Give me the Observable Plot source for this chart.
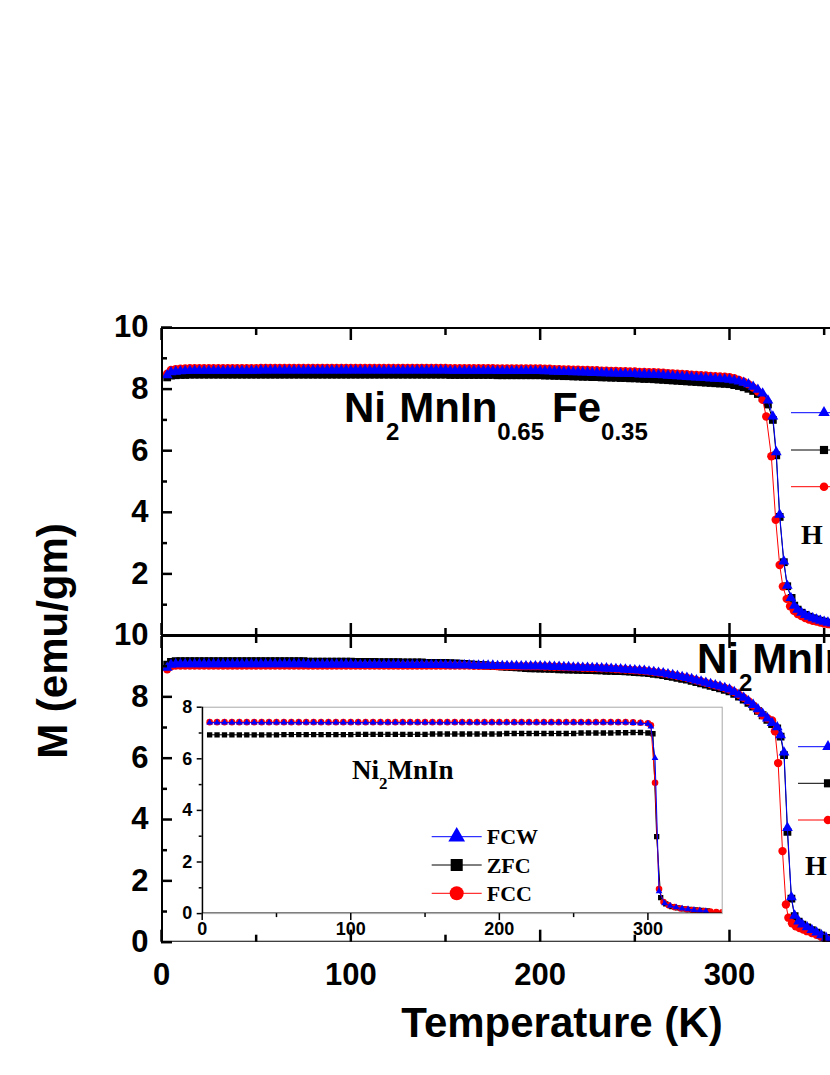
<!DOCTYPE html>
<html><head><meta charset="utf-8">
<script src="https://cdn.jsdelivr.net/npm/d3@7"></script>
<script src="https://cdn.jsdelivr.net/npm/@observablehq/plot@0.6"></script>
<style>
html,body{margin:0;padding:0;background:#fff;overflow:hidden;}
#chart{position:relative;width:830px;height:1075px;overflow:hidden;background:#fff;}
#chart svg{position:absolute;left:0;top:0;}
</style></head><body><div id="chart"></div>
<script>
// ---------------- DATA ----------------
const seriesNames = ["FCW", "ZFC", "FCC"];
const xMajorTicks = [0, 100, 200, 300];
const xMinorTicks = [50, 150, 250, 350];
const yTopLabels = [2, 4, 6, 8, 10];
const yBottomLabels = [0, 2, 4, 6, 8, 10];
const yMinorTicks = [1, 3, 5, 7, 9];
const insetYTicks = [0, 2, 4, 6, 8];
const insetYMinor = [1, 3, 5, 7];
const insetXTicks = [0, 100, 200, 300];
const insetXMinor = [50, 150, 250];

// main panels: common low-temperature grid (K)
const mainT = [
  3,5,7.5,10,12.5,15,17.5,20,22.5,25,27.5,30,32.5,35,37.5,40,42.5,45,47.5,50,
  52.5,55,57.5,60,62.5,65,67.5,70,72.5,75,77.5,80,82.5,85,87.5,90,92.5,95,97.5,100,
  102.5,105,107.5,110,112.5,115,117.5,120,122.5,125,127.5,130,132.5,135,137.5,140,142.5,145,147.5,150,
  152.5,155,157.5,160,162.5,165,167.5,170,172.5,175,177.5,180,182.5,185,187.5,190,192.5,195,197.5,200,
  202.5,205,207.5,210,212.5,215,217.5,220,222.5,225,227.5,230,232.5,235,237.5,240,242.5,245,247.5,250,
  252.5,255,257.5,260,262.5,265,267.5,270,272.5,275,277.5,280,282.5,285,287.5,290,292.5,295,297.5,300,
  302.5,305,307.5,310,312.5,315
];

// Top panel: Ni2MnIn0.65Fe0.35
const topFCW = [
  8.45,8.55,8.57,8.58,8.59,8.6,8.6,8.6,8.6,8.6,8.6,8.6,8.6,8.6,8.6,8.6,8.6,8.6,8.6,8.6,
  8.61,8.61,8.61,8.61,8.61,8.61,8.61,8.61,8.61,8.61,8.61,8.61,8.61,8.61,8.61,8.61,8.61,8.61,8.61,8.61,
  8.61,8.61,8.61,8.61,8.61,8.61,8.61,8.61,8.61,8.61,8.61,8.61,8.61,8.61,8.61,8.61,8.61,8.61,8.61,8.61,
  8.6,8.6,8.6,8.6,8.6,8.6,8.6,8.6,8.6,8.6,8.59,8.59,8.59,8.59,8.59,8.59,8.59,8.59,8.59,8.59,
  8.58,8.58,8.57,8.57,8.56,8.56,8.55,8.55,8.54,8.54,8.53,8.53,8.52,8.52,8.51,8.51,8.5,8.5,8.49,8.49,
  8.48,8.48,8.47,8.47,8.46,8.45,8.44,8.43,8.42,8.41,8.4,8.39,8.38,8.37,8.36,8.35,8.34,8.33,8.32,8.31,
  8.28,8.25,8.21,8.16,8.08,7.98
];
const topFCWTransT = [317.5,320.3,322.9,324.7,326.5,328.7,330.5,332.4,334.2,336,338,340,342,344,346,348,350,352,354];
const topFCWTransM = [7.86,7.63,7.11,5.95,3.92,2.41,1.62,1.22,0.97,0.84,0.74,0.67,0.61,0.56,0.52,0.48,0.45,0.42,0.39];

const topZFC = [
  8.38,8.44,8.45,8.46,8.46,8.47,8.47,8.47,8.47,8.47,8.47,8.47,8.47,8.47,8.47,8.47,8.47,8.47,8.47,8.47,
  8.47,8.47,8.47,8.47,8.47,8.47,8.47,8.47,8.47,8.47,8.47,8.47,8.47,8.47,8.47,8.47,8.47,8.47,8.47,8.47,
  8.47,8.47,8.47,8.47,8.47,8.47,8.47,8.47,8.47,8.47,8.47,8.47,8.47,8.47,8.47,8.47,8.47,8.47,8.47,8.47,
  8.46,8.46,8.46,8.46,8.46,8.46,8.46,8.46,8.46,8.46,8.45,8.45,8.45,8.45,8.45,8.45,8.45,8.45,8.45,8.45,
  8.44,8.44,8.43,8.43,8.42,8.42,8.41,8.41,8.4,8.4,8.39,8.39,8.38,8.38,8.37,8.37,8.36,8.36,8.35,8.35,
  8.34,8.33,8.33,8.32,8.31,8.3,8.29,8.28,8.27,8.26,8.25,8.24,8.23,8.22,8.21,8.2,8.19,8.18,8.17,8.16,
  8.13,8.1,8.06,8.01,7.94,7.84
];
const topZFCTransT = [317.5,320.3,322.9,324.7,326.5,328.7,330.5,332.8,334.2,336,338,340,342,344,346,348,350,352,354];
const topZFCTransM = [7.72,7.5,7.0,5.85,3.85,2.38,1.6,1.22,0.97,0.84,0.74,0.67,0.61,0.56,0.52,0.48,0.45,0.42,0.39];

const topFCC = [
  8.5,8.62,8.65,8.66,8.67,8.68,8.68,8.68,8.68,8.68,8.68,8.68,8.68,8.68,8.68,8.68,8.68,8.68,8.68,8.68,
  8.69,8.69,8.69,8.69,8.69,8.69,8.69,8.69,8.69,8.69,8.69,8.69,8.69,8.69,8.69,8.69,8.69,8.69,8.69,8.69,
  8.69,8.69,8.69,8.69,8.69,8.69,8.69,8.69,8.69,8.69,8.69,8.69,8.69,8.69,8.69,8.69,8.69,8.69,8.69,8.69,
  8.68,8.68,8.68,8.68,8.68,8.68,8.68,8.68,8.68,8.68,8.67,8.67,8.67,8.67,8.67,8.67,8.67,8.67,8.67,8.67,
  8.66,8.66,8.65,8.65,8.64,8.64,8.63,8.63,8.62,8.62,8.61,8.61,8.6,8.6,8.59,8.59,8.58,8.58,8.57,8.57,
  8.56,8.56,8.55,8.55,8.54,8.53,8.52,8.51,8.5,8.49,8.48,8.47,8.46,8.45,8.44,8.43,8.42,8.41,8.4,8.39,
  8.35,8.3,8.24,8.16,8.05,7.92
];
const topFCCTransT = [317.5,319.4,322.1,324.4,326.5,328.2,330.2,332,334,336,338,340,342,344,346,348,350,352,354];
const topFCCTransM = [7.65,7.11,5.82,3.76,2.29,1.59,1.19,0.95,0.8,0.7,0.63,0.57,0.52,0.48,0.45,0.42,0.39,0.37,0.35];

// Bottom panel: Ni2MnIn...
const botFCW = [
  8.95,9.05,9.07,9.07,9.07,9.07,9.07,9.07,9.07,9.07,9.07,9.07,9.07,9.07,9.07,9.07,9.07,9.07,9.07,9.07,
  9.07,9.07,9.07,9.07,9.07,9.07,9.07,9.07,9.07,9.07,9.06,9.06,9.06,9.06,9.06,9.06,9.06,9.06,9.06,9.06,
  9.05,9.05,9.05,9.05,9.05,9.05,9.05,9.05,9.05,9.05,9.04,9.04,9.04,9.04,9.04,9.04,9.04,9.04,9.04,9.04,
  9.03,9.03,9.03,9.03,9.03,9.02,9.02,9.02,9.02,9.02,9.01,9.01,9.01,9.01,9.01,9.0,9.0,9.0,9.0,9.0,
  8.99,8.99,8.98,8.98,8.97,8.97,8.96,8.96,8.95,8.95,8.94,8.94,8.93,8.93,8.92,8.91,8.9,8.89,8.88,8.87,
  8.86,8.85,8.83,8.81,8.79,8.77,8.74,8.71,8.68,8.65,8.62,8.58,8.54,8.5,8.46,8.42,8.38,8.34,8.29,8.24,
  8.16,8.07,7.97,7.86,7.74,7.6
];
const botFCWTransT = [317.5,320,322.5,325.2,327,328.8,330.6,332.7,334.4,336.5,338.5,341,343.5,346,348.5,351,353.5];
const botFCWTransM = [7.45,7.3,7.15,7.01,6.75,6.19,3.73,1.47,0.87,0.68,0.58,0.49,0.4,0.32,0.23,0.15,0.08];

const botZFC = [
  9.05,9.14,9.16,9.16,9.16,9.16,9.16,9.16,9.16,9.16,9.16,9.16,9.16,9.16,9.16,9.16,9.16,9.16,9.16,9.16,
  9.16,9.16,9.16,9.16,9.16,9.16,9.16,9.16,9.16,9.16,9.15,9.15,9.15,9.15,9.15,9.15,9.15,9.15,9.15,9.15,
  9.14,9.14,9.14,9.14,9.14,9.13,9.13,9.13,9.13,9.13,9.12,9.12,9.12,9.12,9.12,9.11,9.11,9.11,9.11,9.11,
  9.1,9.09,9.08,9.07,9.06,9.05,9.04,9.03,9.02,9.01,9.0,8.99,8.98,8.97,8.96,8.95,8.94,8.93,8.93,8.92,
  8.92,8.91,8.91,8.9,8.9,8.89,8.89,8.88,8.88,8.87,8.87,8.86,8.86,8.85,8.85,8.84,8.84,8.83,8.82,8.81,
  8.8,8.79,8.77,8.75,8.73,8.71,8.68,8.65,8.62,8.59,8.56,8.52,8.48,8.44,8.4,8.36,8.32,8.28,8.23,8.18,
  8.1,8.01,7.91,7.8,7.68,7.54
];
const botZFCTransT = [317.5,320,322.5,325.2,327,328.8,330.6,332.7,334.4,336.5,338.5,341,343.5,346,348.5,351,353.5];
const botZFCTransM = [7.4,7.25,7.11,6.97,6.7,6.1,3.6,1.42,0.85,0.67,0.57,0.48,0.39,0.31,0.22,0.14,0.07];

const botFCC = [
  8.9,9.0,9.02,9.02,9.02,9.02,9.02,9.02,9.02,9.02,9.02,9.02,9.02,9.02,9.02,9.02,9.02,9.02,9.02,9.02,
  9.02,9.02,9.02,9.02,9.02,9.02,9.02,9.02,9.02,9.02,9.02,9.02,9.02,9.02,9.02,9.02,9.02,9.02,9.02,9.02,
  9.02,9.02,9.02,9.02,9.02,9.02,9.02,9.02,9.02,9.02,9.02,9.02,9.02,9.02,9.02,9.02,9.02,9.02,9.02,9.02,
  9.02,9.02,9.02,9.02,9.02,9.01,9.01,9.01,9.01,9.01,9.0,9.0,9.0,9.0,9.0,9.0,9.0,9.0,9.0,9.0,
  8.99,8.99,8.98,8.98,8.97,8.97,8.96,8.96,8.95,8.95,8.94,8.94,8.93,8.93,8.92,8.91,8.9,8.89,8.88,8.87,
  8.86,8.85,8.83,8.81,8.79,8.77,8.74,8.71,8.68,8.65,8.62,8.58,8.54,8.5,8.46,8.42,8.38,8.34,8.29,8.24,
  8.16,8.07,7.97,7.86,7.72,7.56
];
const botFCCTransT = [317.5,320,322.5,324,325.7,328,329.8,331.1,333,335,337,339,341,343.5,346,348.5,351,353.5];
const botFCCTransM = [7.4,7.3,7.23,6.88,5.84,2.97,1.23,0.8,0.62,0.52,0.46,0.41,0.36,0.3,0.24,0.18,0.12,0.07];

// Inset: Ni2MnIn
const insetT = [
  5,10,15,20,25,30,35,40,45,50,
  55,60,65,70,75,80,85,90,95,100,
  105,110,115,120,125,130,135,140,145,150,
  155,160,165,170,175,180,185,190,195,200,
  205,210,215,220,225,230,235,240,245,250,
  255,260,265,270,275,280,285,290,295,300
];
const insetFCW = [
  7.4,7.4,7.4,7.4,7.4,7.4,7.4,7.4,7.4,7.4,
  7.4,7.4,7.4,7.4,7.4,7.4,7.4,7.4,7.4,7.4,
  7.4,7.4,7.4,7.4,7.4,7.4,7.4,7.4,7.4,7.4,
  7.4,7.4,7.4,7.4,7.4,7.4,7.4,7.4,7.4,7.4,
  7.4,7.4,7.4,7.4,7.4,7.4,7.4,7.4,7.4,7.4,
  7.4,7.4,7.4,7.4,7.4,7.4,7.4,7.39,7.38,7.36
];
const insetFCWTransT = [302,304.8,307.5,311.3,315,319,323,327,331,335,339];
const insetFCWTransM = [7.25,6.03,0.86,0.4,0.3,0.24,0.2,0.17,0.14,0.12,0.1];
const insetZFC = [
  6.93,6.93,6.93,6.93,6.93,6.93,6.93,6.93,6.93,6.93,
  6.94,6.94,6.94,6.94,6.94,6.94,6.94,6.94,6.94,6.94,
  6.95,6.95,6.95,6.95,6.95,6.95,6.95,6.95,6.95,6.95,
  6.96,6.96,6.96,6.96,6.96,6.96,6.96,6.96,6.96,6.96,
  6.98,6.98,6.98,6.98,6.98,6.98,6.98,6.98,6.98,6.98,
  7.0,7.0,7.0,7.0,7.0,7.01,7.01,7.02,7.02,7.0
];
const insetZFCTransT = [303.4,305.9,308.6,312,316,320,324,328,332,336,340];
const insetZFCTransM = [6.97,2.98,0.62,0.38,0.27,0.22,0.18,0.16,0.14,0.12,0.1];
const insetFCC = [
  7.42,7.42,7.42,7.42,7.42,7.42,7.42,7.42,7.42,7.42,
  7.42,7.42,7.42,7.42,7.42,7.42,7.42,7.42,7.42,7.42,
  7.42,7.42,7.42,7.42,7.42,7.42,7.42,7.42,7.42,7.42,
  7.42,7.42,7.42,7.42,7.42,7.42,7.42,7.42,7.42,7.42,
  7.42,7.42,7.42,7.42,7.42,7.42,7.42,7.42,7.42,7.42,
  7.42,7.42,7.42,7.42,7.42,7.42,7.42,7.41,7.4,7.38
];
const insetFCCTransT = [302,304.8,307.5,310.5,314,318,322,326,330,334,338,342,346,350];
const insetFCCTransM = [7.3,5.07,0.95,0.45,0.32,0.25,0.2,0.17,0.14,0.12,0.1,0.08,0.06,0.05];

// labels
const topTitle = [["Ni",0],["2",1],["MnIn",0],["0.65",1],["Fe",0,8],["0.35",1]];
const botTitle = [["Ni",0],["2",1],["MnIn",0]];
const insetTitle = [["Ni",0],["2",1],["MnIn",0]];
const fieldLabel = "H";
const xTitle = "Temperature (K)";
const yTitle = "M (emu/gm)";

// ---------------- BUILD ----------------
const SANS = "'Liberation Sans', Arial, Helvetica, sans-serif";
const SERIF = "'Liberation Serif', 'Times New Roman', Times, serif";
const colors = {FCW: "#0000ff", ZFC: "#000000", FCC: "#ff0000"};
const symbols = {FCW: "triangle", ZFC: "square", FCC: "circle"};
const drawOrder = ["ZFC", "FCC", "FCW"];

function rows(T, M, s) { return T.map((t, i) => ({T: t, M: M[i], s})); }

const topData = {
  FCW: rows([...mainT, ...topFCWTransT], [...topFCW, ...topFCWTransM], "FCW"),
  ZFC: rows([...mainT, ...topZFCTransT], [...topZFC, ...topZFCTransM], "ZFC"),
  FCC: rows([...mainT, ...topFCCTransT], [...topFCC, ...topFCCTransM], "FCC")
};
const botData = {
  FCW: rows([...mainT, ...botFCWTransT], [...botFCW, ...botFCWTransM], "FCW"),
  ZFC: rows([...mainT, ...botZFCTransT], [...botZFC, ...botZFCTransM], "ZFC"),
  FCC: rows([...mainT, ...botFCCTransT], [...botFCC, ...botFCCTransM], "FCC")
};
const insetData = {
  FCW: rows([...insetT, ...insetFCWTransT], [...insetFCW, ...insetFCWTransM], "FCW"),
  ZFC: rows([...insetT, ...insetZFCTransT], [...insetZFC, ...insetZFCTransM], "ZFC"),
  FCC: rows([...insetT, ...insetFCCTransT], [...insetFCC, ...insetFCCTransM], "FCC")
};

function curveMarks(data, radius) {
  return drawOrder.flatMap(s => [
    Plot.line(data[s], {x: "T", y: "M", stroke: colors[s], strokeWidth: 1}),
    Plot.dot(data[s], {x: "T", y: "M", symbol: symbols[s], r: radius[s], fill: colors[s]})
  ]);
}
const mainR = {FCW: 4, ZFC: 4.4, FCC: 4.2};
const insetR = {FCW: 2.5, ZFC: 3.0, FCC: 3.3};

const W = 830, H = 1075;
const xMain = {domain: [0, 353.35], axis: null};
const lab = {fontSize: 31, fontWeight: "bold", fontFamily: SANS, label: null};
const blank = () => "";
const AX = 2.5;
const noLab = {label: null};

function mainAxes(yLabels, withBottomLabels) {
  return [
    Plot.axisY(yLabels, {anchor: "left", tickSize: -11, tickPadding: 24, strokeWidth: AX, ...lab}),
    Plot.axisY(yMinorTicks, {anchor: "left", tickSize: -6, tickFormat: blank, strokeWidth: AX, ...noLab}),
    Plot.axisX(xMajorTicks, {anchor: "top", tickSize: -12, tickFormat: blank, strokeWidth: AX, ...noLab}),
    Plot.axisX(xMinorTicks, {anchor: "top", tickSize: -7, tickFormat: blank, strokeWidth: AX, ...noLab}),
    withBottomLabels
      ? Plot.axisX(xMajorTicks, {anchor: "bottom", tickSize: -12, tickPadding: 33, strokeWidth: AX, ...lab})
      : Plot.axisX(xMajorTicks, {anchor: "bottom", tickSize: -12, tickFormat: blank, strokeWidth: AX, ...noLab}),
    Plot.axisX(xMinorTicks, {anchor: "bottom", tickSize: -7, tickFormat: blank, strokeWidth: AX, ...noLab}),
    Plot.ruleX([0], {strokeWidth: 3, strokeLinecap: "square"}),
    Plot.ruleY([0, 10], {strokeWidth: 3, strokeLinecap: "square"})
  ];
}

const chart = document.getElementById("chart");

const topPlot = Plot.plot({
  width: W, height: H, marginLeft: 161, marginRight: 0, marginTop: 327, marginBottom: H - 635,
  x: {...xMain, label: null}, y: {domain: [0, 10], axis: null, label: null}, clip: true,
  style: {background: "none", fontFamily: SANS},
  marks: [...curveMarks(topData, mainR), ...mainAxes(yTopLabels, false)]
});
chart.appendChild(topPlot);

const botPlot = Plot.plot({
  width: W, height: H, marginLeft: 161, marginRight: 0, marginTop: 635, marginBottom: H - 941.7,
  x: {...xMain, label: null}, y: {domain: [0, 10], axis: null, label: null}, clip: true,
  style: {background: "none", fontFamily: SANS},
  marks: [...curveMarks(botData, mainR), ...mainAxes(yBottomLabels, true)]
});
chart.appendChild(botPlot);

const insetLab = {fontSize: 18, fontWeight: "bold", fontFamily: SANS, label: null};
const insetPlot = Plot.plot({
  width: W, height: H, marginLeft: 201.7, marginRight: W - 721.7, marginTop: 706.7, marginBottom: H - 913.1,
  x: {domain: [0, 350], axis: null, label: null}, y: {domain: [0, 8], axis: null, label: null}, clip: true,
  style: {background: "none", fontFamily: SANS},
  marks: [
    Plot.frame({stroke: "#a8a8a8", strokeWidth: 1}),
    ...curveMarks(insetData, insetR),
    Plot.ruleX([0], {strokeWidth: 2, strokeLinecap: "square"}),
    Plot.ruleY([0], {strokeWidth: 2, strokeLinecap: "square"}),
    Plot.axisY(insetYTicks, {anchor: "left", tickSize: 5, tickPadding: 5, strokeWidth: 1.5, ...insetLab}),
    Plot.axisY(insetYMinor, {anchor: "left", tickSize: 3, tickFormat: blank, strokeWidth: 1.5, ...noLab}),
    Plot.axisX(insetXTicks, {anchor: "bottom", tickSize: 7, tickPadding: 2, strokeWidth: 1.5, ...insetLab}),
    Plot.axisX(insetXMinor, {anchor: "bottom", tickSize: 4, tickFormat: blank, strokeWidth: 1.5, ...noLab})
  ]
});
chart.appendChild(insetPlot);

// ---------------- overlay: titles, annotations, legends ----------------
const ov = d3.select(chart).append("svg").attr("width", W).attr("height", H).attr("viewBox", `0 0 ${W} ${H}`);

function chem(x, y, parts, size, subSize, subShift, family) {
  const t = ov.append("text").attr("x", x).attr("y", y)
    .attr("font-family", family).attr("font-weight", "bold").attr("font-size", size).attr("fill", "#000");
  let shifted = false;
  parts.forEach(([txt, sub, dx]) => {
    const ts = t.append("tspan").text(txt).attr("font-size", sub ? subSize : size);
    if (dx) ts.attr("dx", dx);
    if (sub && !shifted) { ts.attr("dy", subShift); shifted = true; }
    else if (!sub && shifted) { ts.attr("dy", -subShift); shifted = false; }
  });
}
chem(344, 422, topTitle, 42, 24, 18, SANS);
chem(697, 673, botTitle, 42, 24, 18, SANS);
chem(352, 779, insetTitle, 27, 17, 10, SERIF);

ov.append("text").attr("x", 801).attr("y", 544).attr("font-family", SERIF).attr("font-weight", "bold")
  .attr("font-size", 28).text(fieldLabel);
ov.append("text").attr("x", 805).attr("y", 875).attr("font-family", SERIF).attr("font-weight", "bold")
  .attr("font-size", 28).text(fieldLabel);

ov.append("text").attr("x", 562).attr("y", 1037).attr("text-anchor", "middle")
  .attr("font-family", SANS).attr("font-weight", "bold").attr("font-size", 42).text(xTitle);
ov.append("text").attr("transform", "translate(67,641) rotate(-90)").attr("text-anchor", "middle")
  .attr("font-family", SANS).attr("font-weight", "bold").attr("font-size", 42).text(yTitle);

const d3sym = {triangle: d3.symbolTriangle, square: d3.symbolSquare, circle: d3.symbolCircle};
function legendRow(x1, x2, xm, y, s, r, label, tx) {
  ov.append("line").attr("x1", x1).attr("x2", x2).attr("y1", y).attr("y2", y)
    .attr("stroke", colors[s]).attr("stroke-width", 1);
  ov.append("path").attr("d", d3.symbol(d3sym[symbols[s]], Math.PI * r * r)())
    .attr("transform", `translate(${xm},${y})`).attr("fill", colors[s]);
  if (label) ov.append("text").attr("x", tx).attr("y", y + 7.5).attr("font-family", SERIF)
    .attr("font-weight", "bold").attr("font-size", 22).text(label);
}
const mainLegR = {FCW: 4.3, ZFC: 4.6, FCC: 4.3};
[412.7, 450, 486.7].forEach((y, i) => legendRow(791, 850, 824, y, seriesNames[i], mainLegR[seriesNames[i]]));
[746.7, 783.3, 820].forEach((y, i) => legendRow(798, 850, 828, y, seriesNames[i], mainLegR[seriesNames[i]]));
const insetLegR = {FCW: 6.2, ZFC: 6.8, FCC: 7};
[836.7, 865, 893.3].forEach((y, i) => legendRow(431.7, 481.7, 456.7, y, seriesNames[i], insetLegR[seriesNames[i]], seriesNames[i], 486.7));
</script></body></html>
